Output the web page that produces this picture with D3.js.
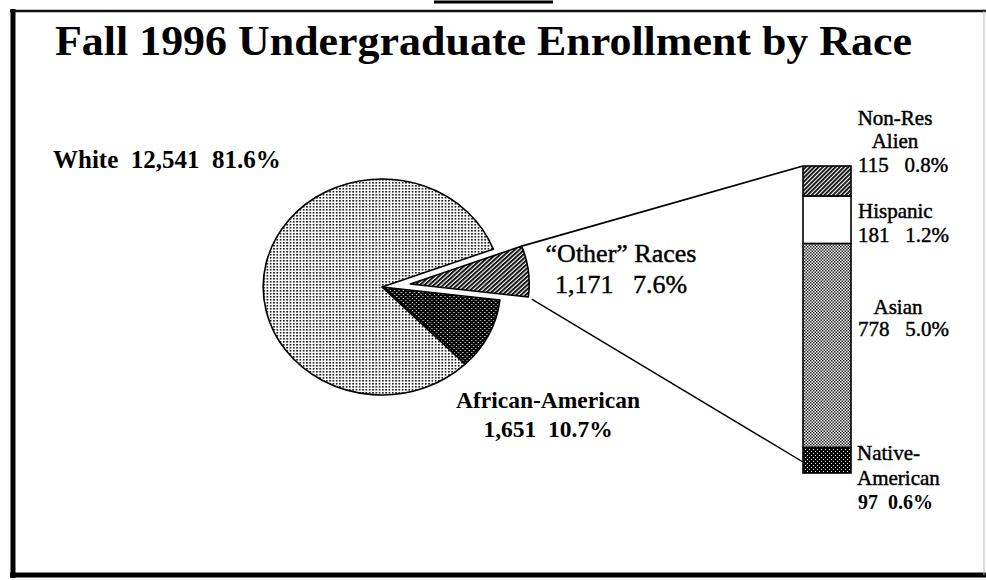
<!DOCTYPE html>
<html>
<head>
<meta charset="utf-8">
<script src="https://cdn.jsdelivr.net/npm/d3@7"></script>
<style>
body{margin:0;background:#fff;}
text{font-family:"Liberation Serif","Times New Roman",serif;fill:#000;white-space:pre;}
text.heavy{stroke:#000;stroke-width:0.45;}
</style>
</head>
<body>
<svg width="986" height="580"></svg>
<script>
'use strict';

//the data
var title = 'Fall 1996 Undergraduate Enrollment by Race';
var pieCats = ['“Other” Races', 'African-American', 'White'];
var pieCounts = [1171, 1651, 12541];
var piePcts = ['7.6%', '10.7%', '81.6%'];
var barCats = ['Non-Res Alien', 'Hispanic', 'Asian', 'Native-American'];
var barNames = [['Non-Res', 'Alien'], ['Hispanic'], ['Asian'], ['Native-', 'American']];
var barCounts = [115, 181, 778, 97];
var barPcts = ['0.8%', '1.2%', '5.0%', '0.6%'];

var svg = d3.select('svg');
var fmt = d3.format(',');

/** patterns (scanned halftone look) **/
var defs = svg.append('defs');
function pat(id, size, bg){
  var p = defs.append('pattern').attr('id', id).attr('patternUnits', 'userSpaceOnUse')
    .attr('width', size).attr('height', size);
  p.append('rect').attr('width', size).attr('height', size).attr('fill', bg);
  return p;
}
var pw = pat('pWhite', 3, '#fff'); //light stipple
pw.append('rect').attr('x', 0).attr('y', 0).attr('width', 1.6).attr('height', 1.6).attr('fill', '#222');
var pa = pat('pDark', 4, '#000'); //black w/ white dots
pa.append('rect').attr('x', 1).attr('y', 1).attr('width', 1).attr('height', 1).attr('fill', '#fff');
pa.append('rect').attr('x', 3).attr('y', 3).attr('width', 1).attr('height', 1).attr('fill', '#fff');
var ph = pat('pHatch', 3, '#fff'); //diagonal hatch
ph.attr('patternTransform', 'rotate(45)');
ph.append('rect').attr('x', 0).attr('y', 0).attr('width', 1.9).attr('height', 3).attr('fill', '#111');
var pc = pat('pCheck', 3, '#fff'); //checker
pc.append('rect').attr('x', 0).attr('y', 0).attr('width', 1.5).attr('height', 1.5).attr('fill', '#222');
pc.append('rect').attr('x', 1.5).attr('y', 1.5).attr('width', 1.5).attr('height', 1.5).attr('fill', '#222');

var pieFill = ['url(#pHatch)', 'url(#pDark)', 'url(#pWhite)'];
var barFill = ['url(#pHatch)', '#fff', 'url(#pCheck)', 'url(#pDark)'];

/** frame **/
svg.append('line').attr('x1', 13).attr('y1', 9).attr('x2', 13).attr('y2', 578)
  .attr('stroke', '#000').attr('stroke-width', 5);
svg.append('line').attr('x1', 10).attr('y1', 11).attr('x2', 986).attr('y2', 11)
  .attr('stroke', '#111').attr('stroke-width', 2.5);
svg.append('line').attr('x1', 10).attr('y1', 575).attr('x2', 986).attr('y2', 575)
  .attr('stroke', '#000').attr('stroke-width', 5);
svg.append('line').attr('x1', 984).attr('y1', 11).attr('x2', 984).attr('y2', 575)
  .attr('stroke', '#bbb').attr('stroke-width', 1);
svg.append('line').attr('x1', 434).attr('y1', 2).attr('x2', 553).attr('y2', 2)
  .attr('stroke', '#000').attr('stroke-width', 3);

//title
svg.append('text').attr('x', 55).attr('y', 55)
  .attr('font-size', 43).attr('font-weight', 'bold')
  .attr('textLength', 857).attr('lengthAdjust', 'spacingAndGlyphs')
  .text(title);

/** pie **/
var cx = 382, cy = 287, r = 108, sx = 1.1, explode = 26;
var start = 69.5 * Math.PI / 180;
var pie = d3.pie().sort(null).startAngle(start).endAngle(start + 2 * Math.PI);
var arcs = pie(pieCounts);
var arc = d3.arc().innerRadius(0).outerRadius(r);

function offset(d, i){
  if(i !== 0) return [0, 0];
  var m = (d.startAngle + d.endAngle) / 2;
  return [explode * Math.sin(m), -explode * Math.cos(m)];
}

var pieG = svg.append('g').attr('transform', 'translate(' + cx + ',' + cy + ') scale(' + sx + ',1)');
pieG.selectAll('path').data(arcs).enter().append('path')
  .attr('transform', function(d, i){ var o = offset(d, i); return 'translate(' + o[0] + ',' + o[1] + ')'; })
  .attr('d', arc)
  .attr('fill', function(d, i){ return pieFill[i]; })
  .attr('stroke', '#000').attr('stroke-width', 1.6)
  .attr('vector-effect', 'non-scaling-stroke')
  .attr('stroke-linejoin', 'round');

//screen point on the outer edge of a slice
function edgePt(d, i, a){
  var o = offset(d, i);
  return [cx + sx * (r * Math.sin(a) + o[0]), cy + (-r * Math.cos(a) + o[1])];
}

/** bar **/
var total = d3.sum(barCounts);
var y = d3.scaleLinear().domain([0, total]).range([166, 473]);
var bx = 803, bw = 48;
var cum = [0].concat(Array.from(d3.cumsum(barCounts)));
var segs = barCounts.map(function(v, i){ return {name: barCats[i], y0: cum[i], y1: cum[i + 1]}; });

svg.selectAll('rect.seg').data(segs).enter().append('rect').attr('class', 'seg')
  .attr('x', bx).attr('width', bw)
  .attr('y', function(d){ return y(d.y0); })
  .attr('height', function(d){ return y(d.y1) - y(d.y0); })
  .attr('fill', function(d, i){ return barFill[i]; })
  .attr('stroke', '#000').attr('stroke-width', 1.6);

//connector lines
var o = arcs[0];
var p1 = edgePt(o, 0, o.startAngle);
var p2 = edgePt(o, 0, o.endAngle);
var t2 = [bx, y(total) - 11];
var dx = t2[0] - p2[0], dy = t2[1] - p2[1], len = Math.sqrt(dx * dx + dy * dy);
svg.append('line').attr('x1', p1[0]).attr('y1', p1[1]).attr('x2', bx).attr('y2', y(0))
  .attr('stroke', '#000').attr('stroke-width', 1.6);
svg.append('line').attr('x1', p2[0] + dx / len * 4).attr('y1', p2[1] + dy / len * 4)
  .attr('x2', t2[0]).attr('y2', t2[1])
  .attr('stroke', '#000').attr('stroke-width', 1.4);

/** pie labels **/
function label(lines, x, y0, lh, size, weight, anchor){
  var t = svg.append('text').attr('font-size', size).attr('font-weight', weight)
    .attr('text-anchor', anchor).attr('xml:space', 'preserve')
    .attr('class', weight === 'normal' ? 'heavy' : null);
  lines.forEach(function(s, k){
    t.append('tspan').attr('x', x).attr('y', y0 + k * lh).text(s);
  });
}
label([pieCats[2] + '  ' + fmt(pieCounts[2]) + '  ' + piePcts[2]], 53, 168, 0, 25, 'bold', 'start');
label([pieCats[0], fmt(pieCounts[0]) + '   ' + piePcts[0]], 621, 262, 31, 26, 'normal', 'middle');
label([pieCats[1], fmt(pieCounts[1]) + '  ' + piePcts[1]], 548, 408, 29, 23.5, 'bold', 'middle');

/** bar labels **/
var barLay = [
  {dy: -56.5, lh: 23.5, anchor: 'middle', nx: 895},
  {dy: -2, lh: 24, anchor: 'start', nx: 858},
  {dy: -32, lh: 22, anchor: 'middle', nx: 898},
  {dy: 0, lh: 24.5, anchor: 'start', nx: 857}
];
segs.forEach(function(d, i){
  var L = barLay[i];
  var mid = (y(d.y0) + y(d.y1)) / 2;
  var names = barNames[i];
  names.forEach(function(s, k){
    svg.append('text').attr('class', 'heavy').attr('x', L.nx).attr('y', mid + L.dy + k * L.lh)
      .attr('font-size', 21).attr('text-anchor', L.anchor)
      .text(s);
  });
  svg.append('text').attr('x', 858).attr('y', mid + L.dy + names.length * L.lh)
    .attr('class', i === 3 ? null : 'heavy')
    .attr('font-size', i === 3 ? 20 : 21).attr('font-weight', i === 3 ? 'bold' : 'normal')
    .attr('xml:space', 'preserve')
    .text(fmt(barCounts[i]) + (i === 3 ? '  ' : '   ') + barPcts[i]);
});
</script>
</body>
</html>
